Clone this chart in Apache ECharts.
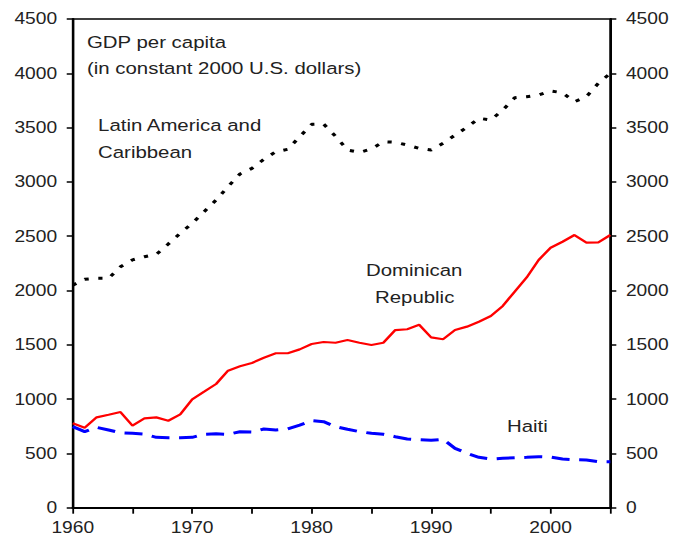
<!DOCTYPE html>
<html>
<head>
<meta charset="utf-8">
<script src="https://cdn.jsdelivr.net/npm/echarts@6/dist/echarts.min.js"></script>
<style>
  html, body { margin: 0; padding: 0; background: #fff; overflow: hidden; }
  /* the reference is stretched sideways, so draw narrower and widen */
  #chart { position: absolute; left: 0; top: 0; width: 563.3px; height: 542px;
           transform: scaleX(1.2); transform-origin: 0 0; }
</style>
</head>
<body>
<div id="chart"></div>
<script>
var years = [];
for (var y = 1960; y <= 2005; y++) years.push(y);

var latinAmerica = [2049, 2104, 2112, 2112, 2219, 2282, 2311, 2333, 2428, 2527,
                    2619, 2726, 2833, 2956, 3073, 3125, 3208, 3278, 3300, 3416,
                    3530, 3533, 3420, 3293, 3272, 3303, 3370, 3365, 3340, 3309,
                    3293, 3355, 3431, 3503, 3586, 3570, 3662, 3775, 3785, 3800,
                    3837, 3821, 3738, 3785, 3908, 4000];
var dominican = [777, 737, 832, 856, 881, 755, 823, 832, 801, 860,
                 998, 1068, 1139, 1262, 1302, 1332, 1381, 1422, 1422, 1458,
                 1507, 1526, 1519, 1544, 1519, 1498, 1519, 1636, 1643, 1685,
                 1568, 1551, 1636, 1667, 1713, 1765, 1858, 1990, 2120, 2281,
                 2394, 2449, 2511, 2440, 2444, 2511];
var haiti = [746, 700, 740, 715, 690, 685, 678, 648, 645, 645,
             648, 676, 680, 676, 700, 697, 725, 715, 725, 761,
             801, 792, 746, 722, 700, 685, 676, 654, 633, 626,
             621, 630, 547, 501, 464, 448, 455, 460, 464, 470,
             466, 448, 442, 439, 424, 424];

var yTicks = { min: 0, max: 4500, step: 500 };

function pairs(vals) {
  return years.map(function (yr, i) { return [yr, vals[i]]; });
}

var font = 'Liberation Sans, Arial, sans-serif';
var txt = '#222';

var myChart = echarts.init(document.getElementById('chart'), null, { renderer: 'svg' });

function valueAxis(pos) {
  return {
    type: 'value', position: pos,
    min: yTicks.min, max: yTicks.max, interval: yTicks.step,
    axisLine: { show: true, lineStyle: { color: '#000', width: 2 } },
    axisTick: { show: true, length: 5, lineStyle: { color: '#000', width: 1.5 } },
    axisLabel: { color: txt, fontSize: 16, fontFamily: font, margin: 13,
                 formatter: function (v) { return String(v); } },
    splitLine: { show: false }
  };
}

function label(text, x, y) {
  return { type: 'text', left: x, top: y,
           style: { text: text, fill: txt, font: '17px ' + font, verticalAlign: 'middle' } };
}

option = {
  animation: false,
  grid: { left: 60.6, right: 54.4, top: 19, bottom: 34.3,
          show: true, borderColor: '#000', borderWidth: 1.5 },
  xAxis: {
    type: 'value', min: 1960, max: 2005, interval: 5,
    axisLine: { lineStyle: { color: '#000', width: 2 } },
    axisTick: { show: true, length: 6, lineStyle: { color: '#000', width: 1.5 } },
    axisLabel: {
      color: txt, fontSize: 16, fontFamily: font, margin: 12,
      formatter: function (v) { return v % 10 === 0 ? String(v) : ''; }
    },
    splitLine: { show: false }
  },
  yAxis: [valueAxis('left'), valueAxis('right')],
  series: [
    {
      name: 'Latin America and Caribbean', type: 'line', showSymbol: false,
      data: pairs(latinAmerica),
      lineStyle: { color: '#000', width: 3, type: [3.5, 8] }
    },
    {
      name: 'Dominican Republic', type: 'line', showSymbol: false,
      data: pairs(dominican),
      lineStyle: { color: '#ff0000', width: 2.2 }
    },
    {
      name: 'Haiti', type: 'line', showSymbol: false,
      data: pairs(haiti),
      lineStyle: { color: '#0000ff', width: 3, type: [15, 8] }
    }
  ],
  graphic: [
    label('GDP per capita', 72.5, 34),
    label('(in constant 2000 U.S. dollars)', 72.5, 60),
    label('Latin America and', 81.7, 117),
    label('Caribbean', 81.7, 144),
    label('Dominican', 305, 262),
    label('Republic', 312.5, 289),
    label('Haiti', 422.5, 418)
  ]
};
myChart.setOption(option);
</script>
</body>
</html>
